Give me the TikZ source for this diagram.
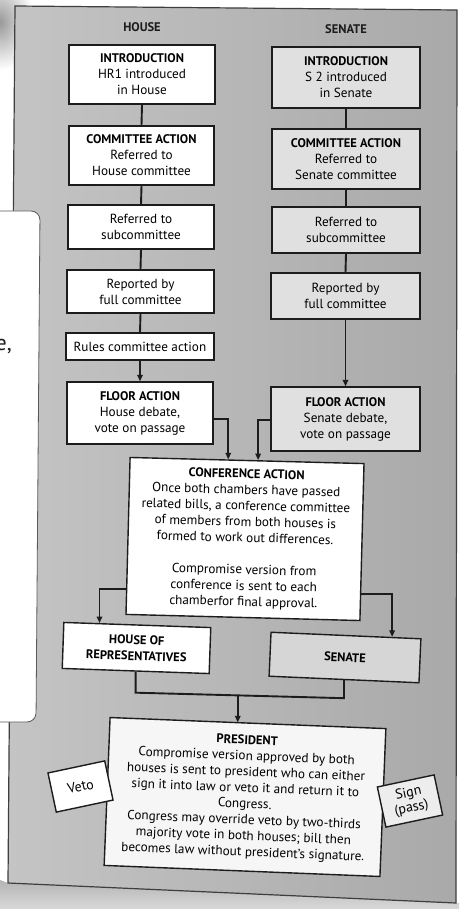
\documentclass[tikz,border=0pt]{standalone}
\usepackage{fontspec}
\setmainfont{PT Sans}
\usetikzlibrary{arrows.meta,calc}
\definecolor{ink}{HTML}{1C1C1C}
\definecolor{panelL}{HTML}{C4C4C4}
\definecolor{panelR}{HTML}{A9A9A9}
\definecolor{senfill}{HTML}{E0E0E0}
\definecolor{senfillB}{HTML}{D6D6D6}
\definecolor{presfill}{HTML}{F6F6F6}
\definecolor{signfill}{HTML}{EDEDED}
\definecolor{shadowgray}{HTML}{B4B4B4}
\newcommand{\hd}[1]{{\bfseries\fontsize{12.5}{16}\selectfont #1}}
\begin{document}
\begin{tikzpicture}[x=1pt,y=-1pt,
  box/.style={draw=ink, line width=1.4pt, align=center, inner sep=0pt,
    font=\fontsize{13.2}{16}\selectfont, fill=#1},
  box/.default=white,
  link/.style={draw=ink, line width=1.9pt},
  arr/.style={link, -{Triangle[length=6.5pt,width=5.5pt]}},
  title/.style={font=\bfseries\fontsize{12.5}{16}\selectfont, text=ink},
  tag/.style={draw=ink, line width=1.4pt, align=center, inner sep=0pt,
    font=\fontsize{14}{15}\selectfont, minimum width=58pt, rotate=12, fill=#1},
  tag/.default=white
  ]
\useasboundingbox (0,0) rectangle (459,909);
\fill[white] (0,0) rectangle (459,909);
% shadows of the photo
\shade[inner color=gray!80, outer color=white] (0,22) ellipse [x radius=34pt, y radius=48pt];
\shade[top color=shadowgray, bottom color=gray!30] (0,880) -- (8,883) -- (456,903) -- (459,903) -- (459,909) -- (0,909) -- cycle;
% grey panel
\shade[left color=panelL, right color=panelR] (15,6) -- (457,10) -- (456,903) -- (8,883) -- cycle;
\draw[ink!85, line width=1.2pt] (15,6) -- (457,10) -- (456,903) -- (8,883) -- cycle;
% white panel at left
\filldraw[fill=white, draw=gray!70!black, line width=0.8pt, rounded corners=9pt]
  (-20,211) -- (40,211) -- (36,722) -- (-20,722) -- cycle;
\node[anchor=base east, inner sep=0pt, font=\fontsize{22}{22}\selectfont, text=ink] (ecomma) at (12,350) {e,};

% column titles
\node[title] (th) at (142,27) {HOUSE};
\node[title] (ts) at (346,29) {SENATE};

% House column
\node[box, minimum width=146pt, minimum height=59pt] (hi) at (142,74.5)
  {\hd{INTRODUCTION}\\HR1 introduced\\in House};
\node[box, minimum width=145pt, minimum height=59pt] (hc) at (141.5,155.5)
  {\hd{COMMITTEE ACTION}\\Referred to\\House committee};
\node[box, minimum width=146pt, minimum height=44pt] (hs) at (141,227)
  {Referred to\\subcommittee};
\node[box, minimum width=147pt, minimum height=43pt] (hr) at (140.5,291.5)
  {Reported by\\full committee};
\node[box, minimum width=148pt, minimum height=27pt] (hru) at (140,346.5)
  {Rules committee action};
\node[box, minimum width=146pt, minimum height=62pt] (hf) at (140,413)
  {\hd{FLOOR ACTION}\\House debate,\\vote on passage};

% Senate column
\node[box=senfill, minimum width=148pt, minimum height=61pt] (si) at (346,77.5)
  {\hd{INTRODUCTION}\\S 2 introduced\\in Senate};
\node[box=senfill, minimum width=148pt, minimum height=60pt] (sc) at (346,159)
  {\hd{COMMITTEE ACTION}\\Referred to\\Senate committee};
\node[box=senfill, minimum width=148pt, minimum height=46pt] (ss) at (346,230)
  {Referred to\\subcommittee};
\node[box=senfill, minimum width=149pt, minimum height=46pt] (sr) at (345.5,296)
  {Reported by\\full committee};
\node[box=senfill, minimum width=149pt, minimum height=64pt] (sf) at (345.5,419)
  {\hd{FLOOR ACTION}\\Senate debate,\\vote on passage};

% Conference
\node[box, minimum width=234pt, minimum height=157pt, rotate=-1.5] (conf) at (245,539)
  {\hd{CONFERENCE ACTION}\\Once both chambers have passed\\related bills, a conference committee\\of members from both houses is\\formed to work out differences.\\[16pt]Compromise version from\\conference is sent to each\\chamberfor final approval.};

% Final chambers
\node[box, minimum width=147pt, minimum height=46pt, rotate=-2] (hrep) at (136.5,648)
  {\hd{HOUSE OF}\\\hd{REPRESENTATIVES}};
\node[box=senfillB, minimum width=150pt, minimum height=44pt, rotate=-2.5] (sen) at (345,657.5)
  {\hd{SENATE}};

% President
\node[box=presfill, minimum width=276pt, minimum height=148pt, rotate=-2.3] (pres) at (245,797)
  {\hd{PRESIDENT}\\Compromise version approved by both\\houses is sent to president who can either\\sign it into law or veto it and return it to\\Congress.\\Congress may override veto by two-thirds\\majority vote in both houses; bill then\\becomes law without president’s signature.};
\node[tag, minimum height=40pt] (veto) at (80.5,786.5) {Veto};
\node[tag=signfill, minimum height=41pt] (sign) at (410,801) {Sign\\(pass)};

% connectors, House column
\draw[link] (hi.south) -- (hc.north);
\draw[link] (hc.south) -- (hs.north);
\draw[link] (hs.south) -- (hr.north);
\draw[link] (hr.south) -- (hru.north);
\draw[arr] (hru.south) -- (hf.north);
% connectors, Senate column
\draw[link] (si.south) -- (sc.north);
\draw[link] (sc.south) -- (ss.north);
\draw[link] (ss.south) -- (sr.north);
\draw[arr] (sr.south) -- (sf.north);
% floor to conference
\draw[arr] ($(hf.north east)!0.6!(hf.south east)$) -| ($(conf.north west)!0.42!(conf.north east)$);
\draw[arr] ($(sf.north west)!0.52!(sf.south west)$) -| ($(conf.north west)!0.547!(conf.north east)$);
% conference to chambers
\draw[arr] ($(conf.south west)!0.166!(conf.north west)$) -| ($(hrep.north west)!0.245!(hrep.north east)$);
\draw[arr] ($(conf.north east)!0.83!(conf.south east)$) -| ($(sen.north west)!0.805!(sen.north east)$);
% chambers to president
\coordinate (j1) at ($(hrep.south)+(0,21)$);
\coordinate (j2) at ($(sen.south)+(0,18)$);
\draw[link] (hrep.south) -- (j1) -- (j2) -- (sen.south);
\coordinate (m) at ($(j1)!0.49!(j2)$);
\draw[arr] (m) -- (m |- pres.north);
\end{tikzpicture}
\end{document}
